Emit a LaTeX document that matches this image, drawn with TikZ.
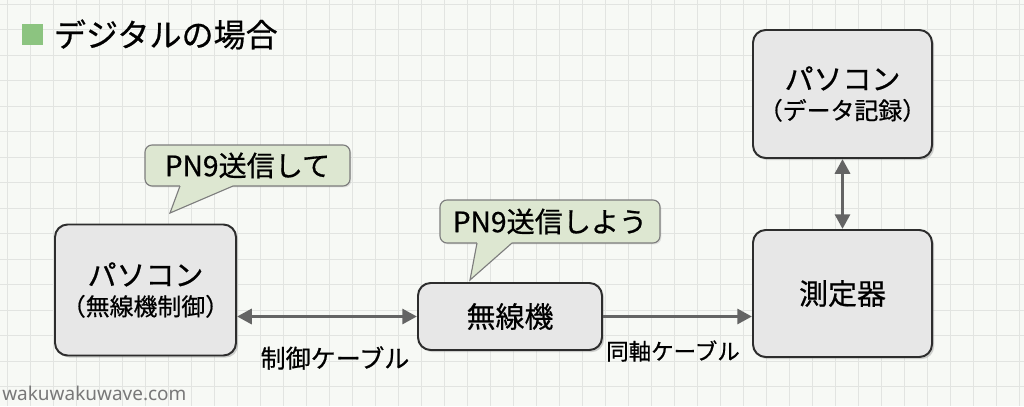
\documentclass[tikz,border=0pt]{standalone}
\usepackage{fontspec}
\setmainfont{Noto Sans CJK JP}[FakeBold=0.6]
\newfontfamily\wmfont{Noto Sans}
\usepackage{tikz}
\usetikzlibrary{arrows.meta,positioning,shadows}

\definecolor{bgpaper}{RGB}{247,249,245}
\definecolor{gridline}{RGB}{226,228,225}
\definecolor{boxfill}{RGB}{231,231,231}
\definecolor{boxline}{RGB}{45,45,45}
\definecolor{bubblefill}{RGB}{221,231,209}
\definecolor{bubbleline}{RGB}{125,125,125}
\definecolor{cablegray}{RGB}{100,100,100}
\definecolor{titlegreen}{RGB}{140,196,128}
\definecolor{wmgray}{RGB}{120,120,120}

\begin{document}
\begin{tikzpicture}[
  x=0.25mm, y=-0.25mm,
  >={Triangle[length=10.5pt,width=10.5pt]},
  box/.style={draw=boxline, line width=1.4pt, fill=boxfill, rounded corners=9pt, align=center, inner sep=0pt,
    drop shadow={opacity=0.35, shadow xshift=1.5pt, shadow yshift=-1.5pt}},
  bubble/.style={draw=bubbleline, line width=0.8pt, fill=bubblefill, rounded corners=5pt, inner sep=0pt,
    font=\fontsize{20}{23}\selectfont, drop shadow={opacity=0.2, shadow xshift=1pt, shadow yshift=-1pt}},
  tail/.style={draw=bubbleline, line width=0.8pt},
  cable/.style={draw=cablegray, line width=2.8pt},
  lbl/.style={inner sep=0pt}
]
\useasboundingbox (0,0) rectangle (1024,406);
\fill[bgpaper] (0,0) rectangle (1024,406);
\foreach \gx in {7,30,...,1024} \draw[gridline, line width=0.7pt] (\gx,0) -- (\gx,406);
\foreach \gy in {4,29.5,...,406} \draw[gridline, line width=0.7pt] (0,\gy) -- (1024,\gy);

% title
\node[fill=titlegreen, minimum size=5.25mm, inner sep=0pt] (mark) at (32.5,34.5) {};
\node[inner sep=0pt, font=\fontsize{22.8}{26}\selectfont, right=2.6mm of mark] (title) {デジタルの場合};

% boxes
\node[box, minimum width=4.525cm, minimum height=3.275cm] (pcctl) at (145.5,290)
  {{\fontsize{20.6}{23.5}\selectfont パソコン}\\[5pt]{\fontsize{17}{23.5}\selectfont （無線機制御）}};
\node[box, minimum width=4.6cm, minimum height=1.675cm, font=\fontsize{20.6}{24}\selectfont] (radio) at (510,316.5) {無線機};
\node[box, minimum width=4.475cm, minimum height=3.175cm, font=\fontsize{20.6}{24}\selectfont] (meter) at (842.5,293.5) {測定器};
\node[box, minimum width=4.475cm, minimum height=3.2cm] (pclog) at (842.5,94)
  {{\fontsize{20.6}{23.5}\selectfont パソコン}\\[5pt]{\fontsize{17}{23.5}\selectfont （データ記録）}};

% speech bubbles
\node[bubble, minimum width=5.125cm, minimum height=1.025cm] (ask) at (247.5,165.5) {PN9送信して};
\coordinate (asktip) at (170,213);
\fill[bubblefill] (180,184) -- (180,186) -- (asktip) -- (233,186) -- (233,184) -- cycle;
\draw[tail] (180,186) -- (asktip) -- (233,186);

\node[bubble, minimum width=5.5cm, minimum height=1.075cm] (reply) at (550,221.5) {PN9送信しよう};
\coordinate (replytip) at (470,280);
\fill[bubblefill] (477,241) -- (477,243) -- (replytip) -- (512,243) -- (512,241) -- cycle;
\draw[tail] (477,243) -- (replytip) -- (512,243);

% cables
\draw[cable, <->] (pcctl.east |- radio.west) -- (radio.west);
\draw[cable, ->] (radio.east) -- (radio.east -| meter.west);
\draw[cable, <->] (pclog.south) -- (meter.north);
\node[lbl, font=\fontsize{17.8}{20}\selectfont] (ctlcable) at (335,358) {制御ケーブル};
\node[lbl, font=\fontsize{16}{19}\selectfont] (coaxcable) at (673,351) {同軸ケーブル};

\node[inner sep=0pt, anchor=base west, text=wmgray, font=\wmfont\fontsize{13.5}{16}\selectfont] (site) at (2,400) {wakuwakuwave.com};
\end{tikzpicture}
\end{document}
